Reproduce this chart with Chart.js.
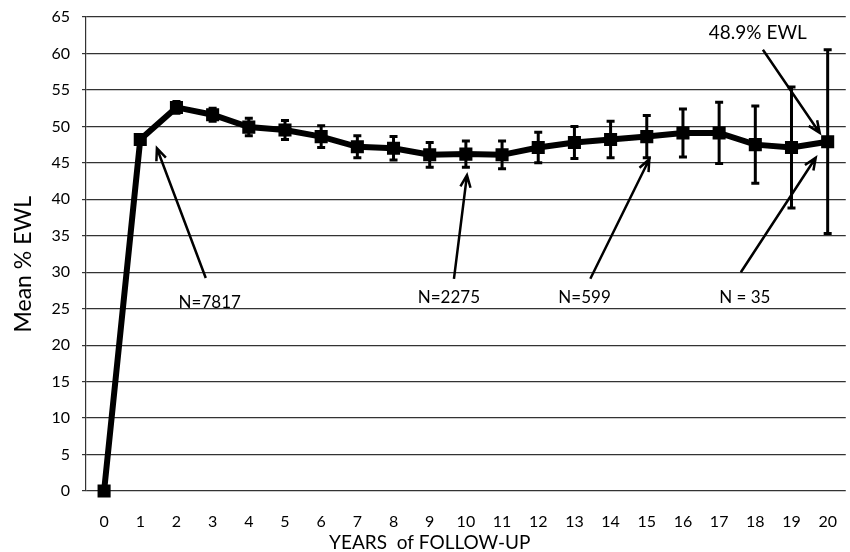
<!DOCTYPE html>
<html>
<head>
<meta charset="utf-8">
<script src="https://cdn.jsdelivr.net/npm/chart.js@4.4.1/dist/chart.umd.min.js"></script>
<style>
  body { margin: 0; background: #fff; }
  #wrap { width: 850px; height: 552px; }
</style>
</head>
<body>
<div id="wrap"><canvas id="graph"></canvas></div>
<script>
const years = ['0','1','2','3','4','5','6','7','8','9','10','11','12','13','14','15','16','17','18','19','20'];
const meanEwl = [0, 48.2, 52.6, 51.6, 49.9, 49.5, 48.6, 47.2, 47.0, 46.1, 46.2, 46.1, 47.1, 47.8, 48.2, 48.6, 49.1, 49.1, 47.5, 47.1, 47.9];
const errEwl  = [0, 0.5, 0.8, 0.9, 1.2, 1.3, 1.5, 1.5, 1.6, 1.7, 1.8, 1.9, 2.1, 2.2, 2.5, 2.9, 3.3, 4.2, 5.3, 8.3, 12.6];
const yMin = 0, yMax = 65, yStep = 5;

// callouts, in data units (x = year, y = % EWL)
const notes = [
    { text: 'N=7817',    at: [2.92, 25.9],  from: [2.81, 29.2],  to: [1.46, 47.0] },
    { text: 'N=2275',    at: [9.53, 26.6],  from: [9.67, 29.1],  to: [10.03, 43.3] },
    { text: 'N=599',     at: [13.28, 26.6], from: [13.44, 29.1], to: [15.07, 45.5] },
    { text: 'N = 35',    at: [17.71, 26.6], from: [17.6, 30.0],  to: [19.67, 45.7] },
    { text: '48.9% EWL', at: [18.07, 62.8], from: [18.21, 60.5], to: [19.78, 49.1] }
];

const FONT = 'Lato, "Open Sans", sans-serif';

const overlay = {
    id: 'overlay',
    afterDatasetsDraw(chart) {
        const { ctx, scales: { x, y } } = chart;
        ctx.save();
        ctx.strokeStyle = '#000';
        ctx.lineWidth = 3;
        // error bars
        meanEwl.forEach((v, i) => {
            const e = errEwl[i];
            if (!e) return;
            const px = x.getPixelForValue(i);
            const top = y.getPixelForValue(v + e);
            const bot = y.getPixelForValue(v - e);
            ctx.beginPath();
            ctx.moveTo(px, top); ctx.lineTo(px, bot);
            ctx.moveTo(px - 4, top); ctx.lineTo(px + 4, top);
            ctx.moveTo(px - 4, bot); ctx.lineTo(px + 4, bot);
            ctx.stroke();
        });
        // arrows + labels
        ctx.lineWidth = 2.5;
        ctx.fillStyle = '#000';
        ctx.textAlign = 'center';
        ctx.textBaseline = 'middle';
        notes.forEach(n => {
            const x1 = x.getPixelForValue(n.from[0]), y1 = y.getPixelForValue(n.from[1]);
            const x2 = x.getPixelForValue(n.to[0]), y2 = y.getPixelForValue(n.to[1]);
            const a = Math.atan2(y2 - y1, x2 - x1);
            const h = 13;
            ctx.beginPath();
            ctx.moveTo(x1, y1); ctx.lineTo(x2, y2);
            ctx.moveTo(x2 - h * Math.cos(a - 0.4), y2 - h * Math.sin(a - 0.4));
            ctx.lineTo(x2, y2);
            ctx.lineTo(x2 - h * Math.cos(a + 0.4), y2 - h * Math.sin(a + 0.4));
            ctx.stroke();
            ctx.font = (n.text.indexOf('EWL') >= 0 ? '19px ' : '17px ') + FONT;
            ctx.fillText(n.text, x.getPixelForValue(n.at[0]), y.getPixelForValue(n.at[1]));
        });
        // axis titles
        ctx.font = '19px ' + FONT;
        ctx.fillText('YEARS  of FOLLOW-UP', x.getPixelForValue(9), 543);
        ctx.font = '23px ' + FONT;
        ctx.translate(24, y.getPixelForValue(31.1));
        ctx.rotate(-Math.PI / 2);
        ctx.fillText('Mean % EWL', 0, 0);
        ctx.restore();
    }
};

new Chart(document.getElementById('graph').getContext('2d'), {
    type: 'line',
    data: {
        labels: years,
        datasets: [{
            data: meanEwl,
            borderColor: '#000',
            borderWidth: 6,
            backgroundColor: '#000',
            pointStyle: 'rect',
            pointRadius: 5,
            pointBackgroundColor: '#000',
            pointBorderColor: '#000',
            tension: 0,
            clip: false
        }]
    },
    options: {
        responsive: true,
        maintainAspectRatio: false,
        animation: false,
        layout: { autoPadding: false, padding: { top: 17, right: 2, left: 0, bottom: 0 } },
        plugins: { legend: { display: false }, tooltip: { enabled: false } },
        scales: {
            x: {
                offset: true,
                grid: { display: false },
                border: { display: false },
                ticks: { color: '#000', font: { family: FONT, size: 16 }, padding: 13, maxRotation: 0 },
                afterFit: s => { s.height = 61; }
            },
            y: {
                min: yMin,
                max: yMax,
                grid: { color: '#333', lineWidth: 1.2, drawTicks: true, tickLength: 4 },
                border: { display: true, color: '#333', width: 1.2 },
                ticks: { stepSize: yStep, color: '#000', font: { family: FONT, size: 16 }, padding: 12 },
                afterFit: s => { s.width = 86; s.paddingTop = 0; s.paddingBottom = 0; }
            }
        }
    },
    plugins: [overlay]
});
</script>
</body>
</html>
